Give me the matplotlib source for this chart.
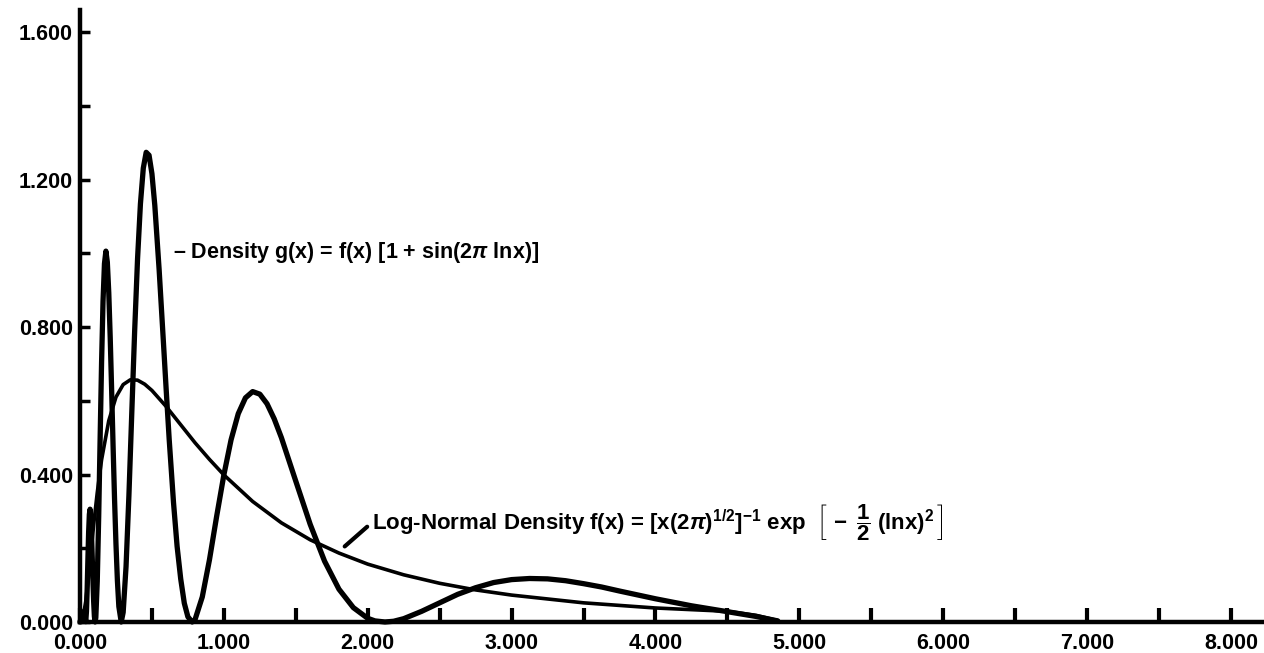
import matplotlib
matplotlib.use("Agg")
import matplotlib.pyplot as plt
from matplotlib.ticker import MultipleLocator, FormatStrFormatter

plt.rcParams["font.family"] = ["Liberation Sans", "DejaVu Sans"]
plt.rcParams["font.weight"] = "bold"
plt.rcParams["mathtext.fontset"] = "custom"
plt.rcParams["mathtext.rm"] = "Liberation Sans:bold"
plt.rcParams["mathtext.it"] = "Liberation Sans:italic:bold"
plt.rcParams["mathtext.bf"] = "Liberation Sans:bold"

# Log-normal density f(x)
f_x = [0.0, 0.02, 0.04, 0.06, 0.08, 0.10, 0.12, 0.15, 0.20, 0.25, 0.30, 0.35,
       0.40, 0.45, 0.50, 0.60, 0.70, 0.80, 0.90, 1.00, 1.20, 1.40, 1.60, 1.80,
       2.00, 2.25, 2.50, 2.75, 3.00, 3.50, 4.00, 4.50, 4.70, 4.85]
f_y = [0.0, 0.0095, 0.056, 0.127, 0.205, 0.282, 0.351, 0.440, 0.546, 0.610, 0.644, 0.657,
       0.656, 0.645, 0.628, 0.584, 0.535, 0.486, 0.441, 0.399, 0.327, 0.269, 0.223, 0.187,
       0.157, 0.128, 0.105, 0.087, 0.073, 0.052, 0.038, 0.029, 0.018, 0.004]

# Density g(x), values
g_x = [0.0, 0.02, 0.03, 0.04, 0.045, 0.05, 0.055, 0.06, 0.065, 0.07, 0.075, 0.08,
       0.085, 0.09, 0.095, 0.10, 0.105, 0.11, 0.12, 0.13, 0.14, 0.15, 0.16, 0.17,
       0.18, 0.19, 0.20, 0.21, 0.22, 0.23, 0.24, 0.25, 0.26, 0.27, 0.2865, 0.30,
       0.32, 0.34, 0.36, 0.38, 0.40, 0.42, 0.44, 0.46, 0.48, 0.50, 0.52, 0.55,
       0.58, 0.60, 0.62, 0.65, 0.675, 0.70, 0.725, 0.75, 0.78, 0.80, 0.85, 0.90,
       0.95, 1.00, 1.05, 1.10, 1.15, 1.20, 1.25, 1.30, 1.35, 1.40, 1.50, 1.60,
       1.70, 1.80, 1.90, 2.00, 2.05, 2.12, 2.18, 2.25, 2.375, 2.50, 2.625, 2.75,
       2.875, 3.00, 3.125, 3.25, 3.375, 3.50, 3.625, 3.75, 4.00, 4.25, 4.50, 4.70,
       4.85]
g_y = [0.0, 0.015, 0.030, 0.001, 0.029, 0.092, 0.171, 0.244, 0.292, 0.306, 0.285, 0.238,
       0.176, 0.111, 0.055, 0.015, 0.0, 0.012, 0.111, 0.287, 0.500, 0.705, 0.869, 0.972,
       1.006, 0.976, 0.893, 0.772, 0.628, 0.477, 0.335, 0.212, 0.112, 0.042, 0.0, 0.026,
       0.150, 0.343, 0.568, 0.790, 0.985, 1.134, 1.231, 1.274, 1.266, 1.216, 1.130, 0.956,
       0.758, 0.624, 0.495, 0.324, 0.205, 0.117, 0.051, 0.014, 0.0, 0.007, 0.068, 0.169,
       0.287, 0.399, 0.494, 0.565, 0.608, 0.625, 0.618, 0.592, 0.551, 0.500, 0.382, 0.265,
       0.165, 0.089, 0.039, 0.010, 0.003, 0.0, 0.002, 0.009, 0.029, 0.052, 0.075, 0.093,
       0.107, 0.115, 0.118, 0.117, 0.112, 0.104, 0.095, 0.084, 0.063, 0.044, 0.028, 0.015,
       0.003]

x_major = [0, 1, 2, 3, 4, 5, 6, 7, 8]
y_major = [0.0, 0.4, 0.8, 1.2, 1.6]

fig = plt.figure(figsize=(12.64, 6.53), dpi=100)
ax = fig.add_axes([80 / 1264, 31 / 653, 1 - 80 / 1264, 612 / 653])

ax.plot(f_x, f_y, color="black", linewidth=2.6,
        solid_capstyle="round", solid_joinstyle="round", clip_on=False)
ax.plot(g_x, g_y, color="black", linewidth=3.8,
        solid_capstyle="round", solid_joinstyle="round", clip_on=False)

ax.set_xlim(0, 8.23)
ax.set_ylim(0, 1.66)

for side in ["top", "right"]:
    ax.spines[side].set_visible(False)
for side in ["left", "bottom"]:
    ax.spines[side].set_linewidth(3.2)

ax.set_xticks(x_major)
ax.set_yticks(y_major)
ax.xaxis.set_minor_locator(MultipleLocator(0.5))
ax.yaxis.set_minor_locator(MultipleLocator(0.2))
ax.xaxis.set_major_formatter(FormatStrFormatter("%.3f"))
ax.yaxis.set_major_formatter(FormatStrFormatter("%.3f"))

ax.tick_params(axis="x", which="both", direction="in", length=10, width=3,
               labelsize=15.5, pad=8)
ax.tick_params(axis="y", which="both", direction="in", length=7, width=2.5,
               labelsize=15.5, pad=5)
for lab in ax.get_xticklabels() + ax.get_yticklabels():
    lab.set_fontweight("bold")

ax.text(0.647, 1.003, "\u2013 Density g(x) = f(x) [1 + sin(2$\\pi$ lnx)]",
        fontsize=15.5, fontweight="bold", ha="left", va="center")

ax.annotate("Log-Normal Density f(x) = [x(2$\\pi$)$^{1/2}$]$^{-1}$ exp "
            "$\\;\\left[\\,-\\;\\dfrac{1}{2}\\;\\mathrm{(lnx)}^{2}\\,\\right]$",
            xy=(1.84, 0.205), xytext=(2.03, 0.27),
            fontsize=16, fontweight="bold", ha="left", va="center",
            arrowprops=dict(arrowstyle="-", color="black", lw=3,
                            relpos=(0, 0.5), shrinkA=2, shrinkB=0))

fig.savefig("out.png", dpi=100)
